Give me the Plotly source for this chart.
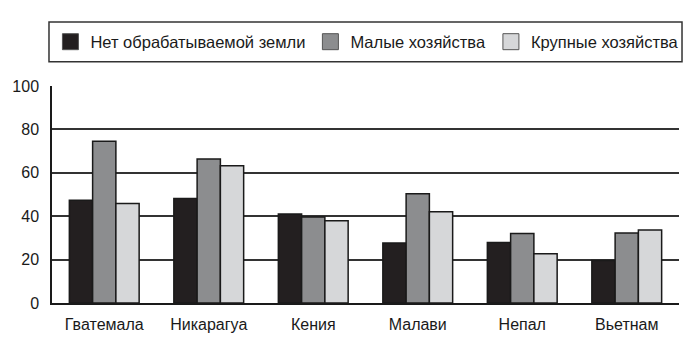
import plotly.graph_objects as go

categories = ["Гватемала", "Никарагуа", "Кения", "Малави", "Непал", "Вьетнам"]
series_names = ["Нет обрабатываемой земли", "Малые хозяйства", "Крупные хозяйства"]
no_land = [47.4, 48.1, 41.0, 27.6, 27.9, 19.6]
small_farms = [74.5, 66.4, 39.6, 50.4, 32.0, 32.3]
large_farms = [45.9, 63.3, 37.9, 42.1, 22.7, 33.6]
y_ticks = [0, 20, 40, 60, 80, 100]

colors = ["#231f20", "#8c8d8f", "#d6d7d9"]
values = [no_land, small_farms, large_farms]

fig = go.Figure()
for name, vals, col in zip(series_names, values, colors):
    fig.add_trace(go.Bar(
        x=categories, y=vals, name=name, showlegend=False,
        marker=dict(color=col, line=dict(color="#1a1a1a", width=1.5)),
    ))
for name, col in zip(series_names, colors):
    fig.add_trace(go.Scatter(
        x=[None], y=[None], mode="markers", name=name,
        marker=dict(symbol="square", size=16, color=col,
                    line=dict(color="#555555", width=1)),
    ))

font = "Liberation Sans, Arial, sans-serif"
fig.update_layout(
    width=700, height=345,
    margin=dict(l=50, r=21, t=86, b=35),
    paper_bgcolor="white", plot_bgcolor="white",
    barmode="group", bargap=0.332, bargroupgap=0,
    font=dict(family=font, size=15, color="#1a1a1a"),
    legend=dict(
        orientation="h", x=-0.0025, y=1.203, xanchor="left", yanchor="middle",
        borderwidth=0, bgcolor="rgba(0,0,0,0)",
        font=dict(family=font, size=16.5, color="#1a1a1a"),
        itemwidth=30,
    ),
    shapes=[dict(
        type="rect", xref="paper", yref="paper",
        x0=-0.0048, x1=1.0048, y0=1.1116, y1=1.2946,
        line=dict(color="#333333", width=1.5), fillcolor="rgba(0,0,0,0)",
    )],
    xaxis=dict(
        showline=True, linecolor="#1a1a1a", linewidth=1.5,
        showgrid=False, ticks="outside", ticklen=6, tickcolor="rgba(0,0,0,0)",
        tickfont=dict(size=16),
    ),
    yaxis=dict(
        range=[0, 100], tickvals=y_ticks, showgrid=True,
        gridcolor="#333333", gridwidth=1.5,
        showline=True, linecolor="#1a1a1a", linewidth=1.5,
        ticks="outside", ticklen=8, tickcolor="rgba(0,0,0,0)",
        tickfont=dict(size=16), zeroline=False,
    ),
)

fig.write_html("out.html")
